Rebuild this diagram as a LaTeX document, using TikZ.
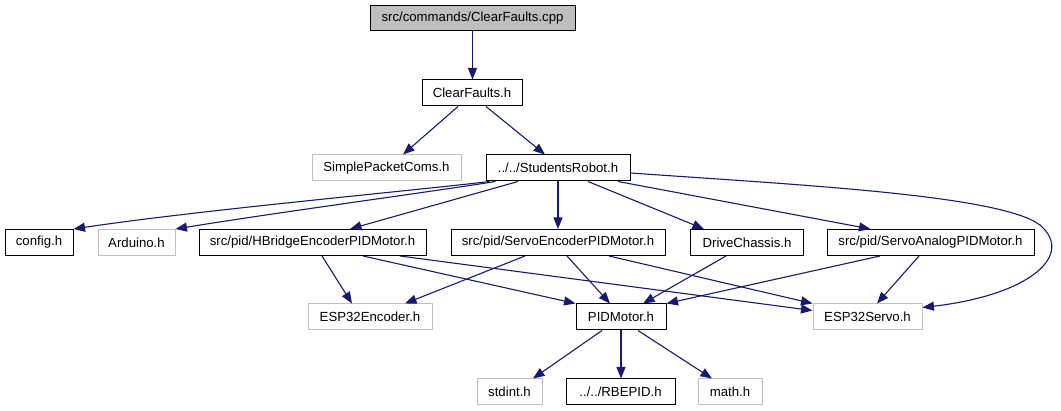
\documentclass[tikz,border=0pt]{standalone}
\usepackage{fontspec}
\setmainfont{Liberation Sans}
\usetikzlibrary{arrows.meta}
\definecolor{edgeblue}{HTML}{191970}
\definecolor{lightg}{HTML}{BFBFBF}
\begin{document}
\begin{tikzpicture}[x=1pt,y=-1pt,
 box/.style={draw=black,line width=1pt,rectangle,minimum height=26pt,inner sep=0pt,font=\fontsize{13.2}{15}\selectfont,text=black},
 gbox/.style={box,draw=lightg},
 edge/.style={draw=edgeblue,line width=1.1pt,-{Triangle[length=11.5pt,width=9pt]}}]
\useasboundingbox (0,0) rectangle (1061,411);
\node[box,fill=lightg,minimum width=205pt,minimum height=25pt] (cpp) at (472.5,18.5) {src/commands/ClearFaults.cpp};
\node[box,minimum width=100pt] (cfh) at (472,93) {ClearFaults.h};
\node[gbox,minimum width=149pt] (spc) at (386.5,168) {SimplePacketComs.h};
\node[box,minimum width=144pt] (sr) at (558,168) {../../StudentsRobot.h};
\node[box,minimum width=68pt] (cfg) at (39,242.5) {config.h};
\node[gbox,minimum width=77pt] (ard) at (136.5,242.5) {Arduino.h};
\node[box,minimum width=227pt] (hb) at (312.5,242.5) {src/pid/HBridgeEncoderPIDMotor.h};
\node[box,minimum width=214pt] (se) at (558,242.5) {src/pid/ServoEncoderPIDMotor.h};
\node[box,minimum width=113pt] (dc) at (747,242.5) {DriveChassis.h};
\node[box,minimum width=207pt] (sa) at (930.5,242.5) {src/pid/ServoAnalogPIDMotor.h};
\node[gbox,minimum width=124pt] (e32e) at (370,317) {ESP32Encoder.h};
\node[box,minimum width=90pt] (pid) at (621,317) {PIDMotor.h};
\node[gbox,minimum width=109pt] (e32s) at (867.5,317) {ESP32Servo.h};
\node[gbox,minimum width=65pt] (std) at (509.5,392) {stdint.h};
\node[box,minimum width=109pt] (rbe) at (620.5,392) {../../RBEPID.h};
\node[gbox,minimum width=64pt] (math) at (730,392) {math.h};

\draw[edge] (cpp.south) -- (cpp.south |- cfh.north);
\draw[edge] ([xshift=-14pt]cfh.south) -- ([xshift=16.5pt]spc.north);
\draw[edge] ([xshift=14pt]cfh.south) -- ([xshift=-13pt]sr.north);
\draw[edge] ([xshift=4pt]sr.south west) .. controls (420,190) and (200,210) .. (cfg.north east);
\draw[edge] ([xshift=10pt]sr.south west) .. controls (430,192) and (280,212) .. (ard.north east);
\draw[edge] ([xshift=-40pt]sr.south) -- ([xshift=37.5pt]hb.north);
\draw[edge] (sr.south) -- (se.north);
\draw[edge] ([xshift=30pt]sr.south) -- ([xshift=-43pt]dc.north);
\draw[edge] ([xshift=60pt]sr.south) -- ([xshift=-60pt]sa.north);
\draw[edge] ([yshift=-5pt]sr.east) .. controls (800,185) and (1000,195) .. (1040,225) .. controls (1075,255) and (1030,295) .. ([yshift=-4pt]e32s.north east);
\draw[edge] ([xshift=9.5pt]hb.south) -- ([xshift=-18pt]e32e.north);
\draw[edge] ([xshift=50.5pt]hb.south) -- (pid.north west);
\draw[edge] ([xshift=87.5pt]hb.south) -- ([yshift=-7pt]e32s.north west);
\draw[edge] ([xshift=-33pt]se.south) -- ([xshift=35pt]e32e.north);
\draw[edge] ([xshift=9pt]se.south) -- ([xshift=-11pt]pid.north);
\draw[edge] ([xshift=51pt]se.south) -- (e32s.north west);
\draw[edge] ([xshift=-21pt]dc.south) -- ([xshift=22pt]pid.north);
\draw[edge] ([xshift=-50.5pt]sa.south) -- (pid.north east);
\draw[edge] ([xshift=-11.5pt]sa.south) -- ([xshift=9.5pt]e32s.north);
\draw[edge] ([xshift=-19pt]pid.south) -- ([xshift=23.5pt]std.north);
\draw[edge] (pid.south) -- (pid.south |- rbe.north);
\draw[edge] ([xshift=17pt]pid.south) -- ([xshift=-18pt]math.north);
\end{tikzpicture}
\end{document}
